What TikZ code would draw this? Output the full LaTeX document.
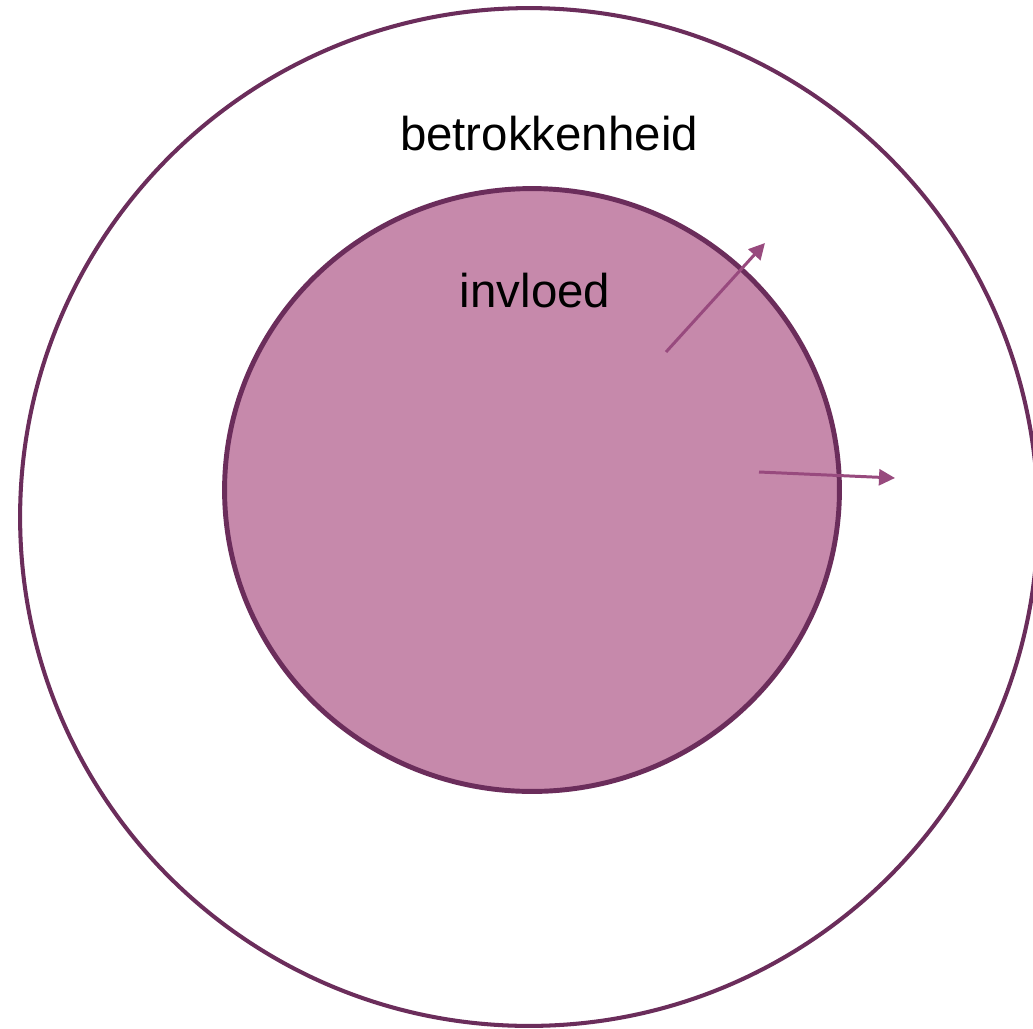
\documentclass[tikz,border=0pt]{standalone}
\usepackage{fontspec}
\setmainfont{Liberation Sans}
\usetikzlibrary{shapes.geometric,arrows.meta,positioning}

\definecolor{ringline}{HTML}{6B2D5B}
\definecolor{corefill}{HTML}{C689AB}
\definecolor{arrowcol}{HTML}{984A7E}

\begin{document}
\begin{tikzpicture}[
  x=0.02cm, y=-0.02cm,
  ring/.style={draw=ringline, line width=2.3pt, inner sep=0pt},
  lbl/.style={font=\fontsize{27}{32}\selectfont, anchor=base, inner sep=0pt},
  push/.style={-{Triangle[length=0.32cm, width=0.32cm]}, draw=arrowcol, line width=1.7pt}
]
\useasboundingbox (0,0) rectangle (1033,1028);
\clip (0,0) rectangle (1033,1028);

% --- circles ---
\node[ring, circle, fill=white, minimum size=20.36cm] (outer) at (529,517) {};
\node[ring, ellipse, fill=corefill, line width=2.8pt, minimum width=12.3cm, minimum height=12.06cm] (inner) at (532,490) {};

% --- labels ---
\node[lbl] (betr) at (549,150) {betrokkenheid};
\node[lbl] (invl) at (535,307) {invloed};

% --- arrows ---
\coordinate (a1s) at (666,352);
\coordinate (a1e) at (765,243);
\coordinate (a2s) at (759,472);
\coordinate (a2e) at (895,478);
\draw[push] (a1s) -- (a1e);
\draw[push] (a2s) -- (a2e);
\end{tikzpicture}
\end{document}
